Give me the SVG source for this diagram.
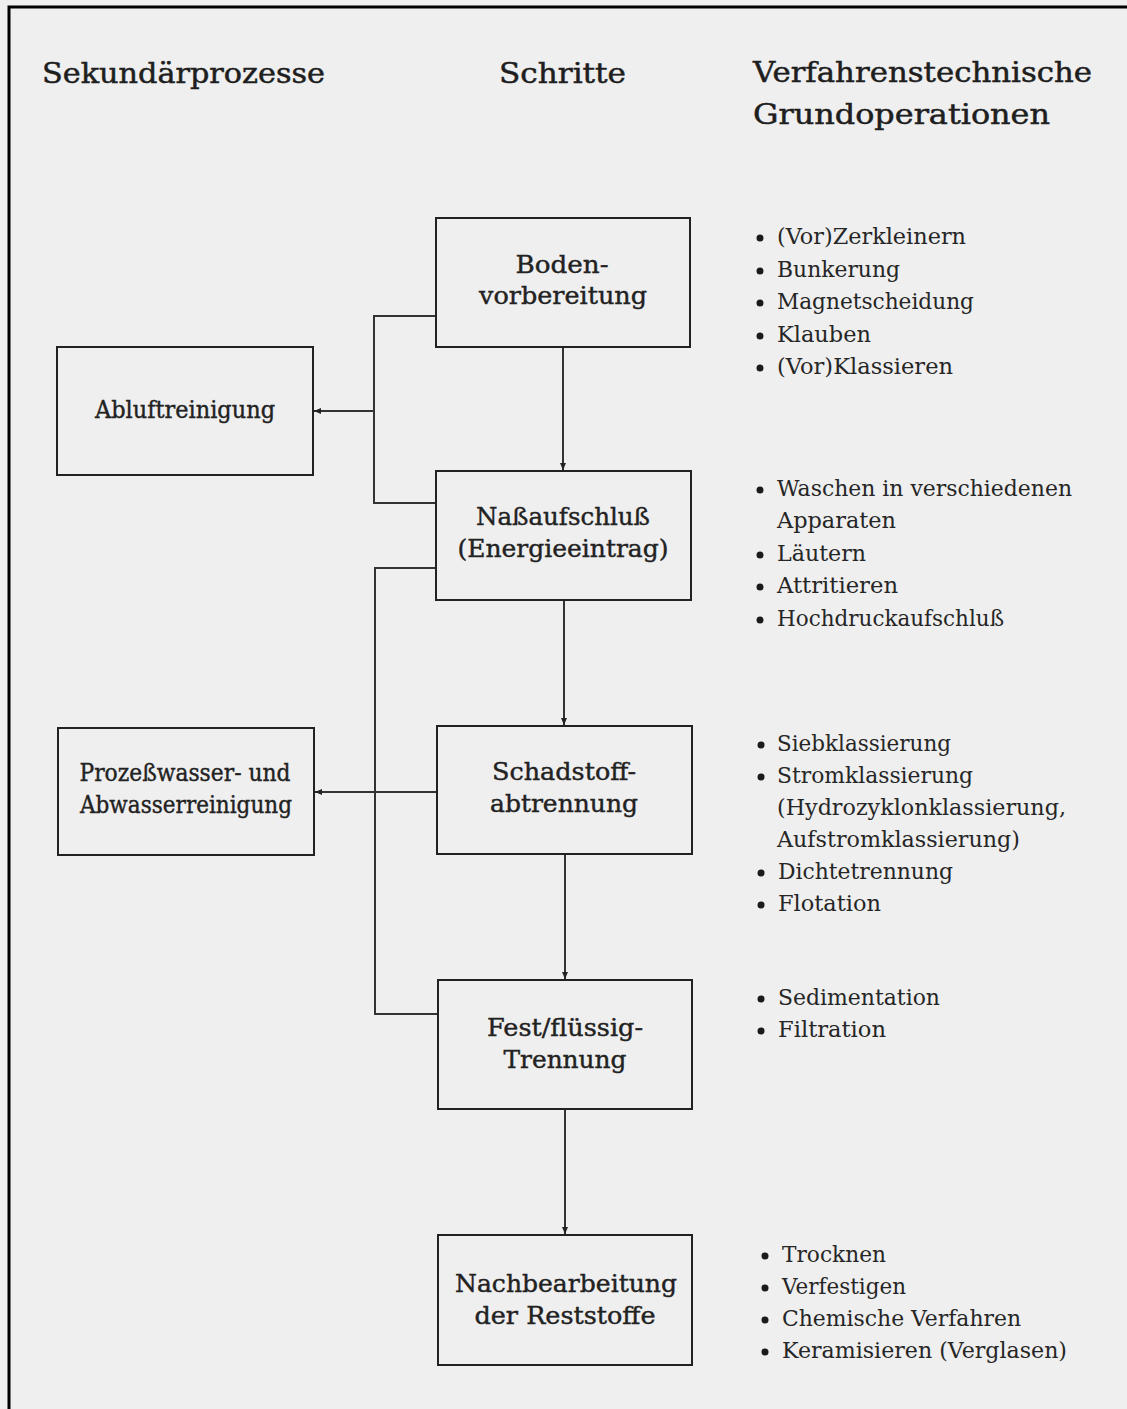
<svg xmlns="http://www.w3.org/2000/svg" width="1127" height="1409" viewBox="0 0 1127 1409">
<defs>
<marker id="ah" markerWidth="8" markerHeight="6" refX="7" refY="3" orient="auto" markerUnits="userSpaceOnUse">
<path d="M0,0 L7,3 L0,6 Z" fill="#222"/>
</marker>
<style>
.bg{fill:#efefef}
.frame{stroke:#000;stroke-width:3;fill:none}
.box{fill:none;stroke:#222;stroke-width:2}
.conn{fill:none;stroke:#333;stroke-width:2}
.hd{font-family:"DejaVu Serif","Liberation Serif",serif;font-size:28px;fill:#1e1e1e;stroke:#1e1e1e;stroke-width:0.5}
.bt{font-family:"DejaVu Serif","Liberation Serif",serif;font-size:24px;fill:#222;stroke:#222;stroke-width:0.4;text-anchor:middle}
.li{font-family:"DejaVu Serif","Liberation Serif",serif;font-size:22px;fill:#262626}
.dot{fill:#1a1a1a}
</style>
</defs>
<rect class="bg" x="0" y="0" width="1127" height="1409"/>
<path class="frame" d="M9,1409 L9,7 L1127,7"/>

<g id="headers">
<text class="hd" x="42" y="83" textLength="283" lengthAdjust="spacingAndGlyphs">Sekundärprozesse</text>
<text class="hd" x="499" y="83" textLength="127" lengthAdjust="spacingAndGlyphs">Schritte</text>
<text class="hd" x="753" y="82" textLength="339" lengthAdjust="spacingAndGlyphs">Verfahrenstechnische</text>
<text class="hd" x="753" y="124" textLength="297" lengthAdjust="spacingAndGlyphs">Grundoperationen</text>
</g>

<g id="connectors">
<line class="conn" x1="563" y1="347" x2="563" y2="470" marker-end="url(#ah)"/>
<line class="conn" x1="564" y1="600" x2="564" y2="725" marker-end="url(#ah)"/>
<line class="conn" x1="565" y1="854" x2="565" y2="979" marker-end="url(#ah)"/>
<line class="conn" x1="565" y1="1109" x2="565" y2="1234" marker-end="url(#ah)"/>
<path class="conn" d="M436,316 L374,316 L374,503 L436,503"/>
<line class="conn" x1="374" y1="411" x2="314" y2="411" marker-end="url(#ah)"/>
<path class="conn" d="M436,568 L375,568 L375,1014 L438,1014"/>
<line class="conn" x1="437" y1="792" x2="315" y2="792" marker-end="url(#ah)"/>
</g>

<g id="boden">
<rect class="box" x="436" y="218" width="254" height="129"/>
<text class="bt" x="562" y="273" textLength="93" lengthAdjust="spacingAndGlyphs">Boden-</text>
<text class="bt" x="563" y="304" textLength="168" lengthAdjust="spacingAndGlyphs">vorbereitung</text>
</g>
<g id="abluft">
<rect class="box" x="57" y="347" width="256" height="128"/>
<text class="bt" x="185" y="418" textLength="180" lengthAdjust="spacingAndGlyphs">Abluftreinigung</text>
</g>
<g id="nass">
<rect class="box" x="436" y="471" width="255" height="129"/>
<text class="bt" x="563" y="525" textLength="174" lengthAdjust="spacingAndGlyphs">Naßaufschluß</text>
<text class="bt" x="563" y="557" textLength="211" lengthAdjust="spacingAndGlyphs">(Energieeintrag)</text>
</g>
<g id="prozesswasser">
<rect class="box" x="58" y="728" width="256" height="127"/>
<text class="bt" x="185" y="781" textLength="211" lengthAdjust="spacingAndGlyphs">Prozeßwasser- und</text>
<text class="bt" x="186" y="813" textLength="212" lengthAdjust="spacingAndGlyphs">Abwasserreinigung</text>
</g>
<g id="schadstoff">
<rect class="box" x="437" y="726" width="255" height="128"/>
<text class="bt" x="564" y="780" textLength="144" lengthAdjust="spacingAndGlyphs">Schadstoff-</text>
<text class="bt" x="564" y="812" textLength="148" lengthAdjust="spacingAndGlyphs">abtrennung</text>
</g>
<g id="festfluessig">
<rect class="box" x="438" y="980" width="254" height="129"/>
<text class="bt" x="565" y="1036" textLength="156" lengthAdjust="spacingAndGlyphs">Fest/flüssig-</text>
<text class="bt" x="565" y="1068" textLength="123" lengthAdjust="spacingAndGlyphs">Trennung</text>
</g>
<g id="nachbearbeitung">
<rect class="box" x="438" y="1235" width="254" height="130"/>
<text class="bt" x="566" y="1292" textLength="222" lengthAdjust="spacingAndGlyphs">Nachbearbeitung</text>
<text class="bt" x="565" y="1324" textLength="181" lengthAdjust="spacingAndGlyphs">der Reststoffe</text>
</g>

<g id="ops-boden">
<circle class="dot" cx="760" cy="238" r="3.5"/>
<text class="li" x="777" y="244" textLength="189" lengthAdjust="spacingAndGlyphs">(Vor)Zerkleinern</text>
<circle class="dot" cx="760" cy="271" r="3.5"/>
<text class="li" x="777" y="277" textLength="123" lengthAdjust="spacingAndGlyphs">Bunkerung</text>
<circle class="dot" cx="760" cy="303" r="3.5"/>
<text class="li" x="777" y="309" textLength="197" lengthAdjust="spacingAndGlyphs">Magnetscheidung</text>
<circle class="dot" cx="760" cy="336" r="3.5"/>
<text class="li" x="777" y="342" textLength="94" lengthAdjust="spacingAndGlyphs">Klauben</text>
<circle class="dot" cx="760" cy="368" r="3.5"/>
<text class="li" x="777" y="374" textLength="176" lengthAdjust="spacingAndGlyphs">(Vor)Klassieren</text>
</g>
<g id="ops-nass">
<circle class="dot" cx="760" cy="490" r="3.5"/>
<text class="li" x="777" y="496" textLength="295" lengthAdjust="spacingAndGlyphs">Waschen in verschiedenen</text>
<text class="li" x="777" y="528" textLength="119" lengthAdjust="spacingAndGlyphs">Apparaten</text>
<circle class="dot" cx="760" cy="555" r="3.5"/>
<text class="li" x="777" y="561" textLength="89" lengthAdjust="spacingAndGlyphs">Läutern</text>
<circle class="dot" cx="760" cy="587" r="3.5"/>
<text class="li" x="777" y="593" textLength="121" lengthAdjust="spacingAndGlyphs">Attritieren</text>
<circle class="dot" cx="760" cy="620" r="3.5"/>
<text class="li" x="777" y="626" textLength="227" lengthAdjust="spacingAndGlyphs">Hochdruckaufschluß</text>
</g>
<g id="ops-schadstoff">
<circle class="dot" cx="761" cy="745" r="3.5"/>
<text class="li" x="777" y="751" textLength="174" lengthAdjust="spacingAndGlyphs">Siebklassierung</text>
<circle class="dot" cx="761" cy="777" r="3.5"/>
<text class="li" x="777" y="783" textLength="196" lengthAdjust="spacingAndGlyphs">Stromklassierung</text>
<text class="li" x="777" y="815" textLength="289" lengthAdjust="spacingAndGlyphs">(Hydrozyklonklassierung,</text>
<text class="li" x="777" y="847" textLength="243" lengthAdjust="spacingAndGlyphs">Aufstromklassierung)</text>
<circle class="dot" cx="761" cy="873" r="3.5"/>
<text class="li" x="778" y="879" textLength="175" lengthAdjust="spacingAndGlyphs">Dichtetrennung</text>
<circle class="dot" cx="761" cy="905" r="3.5"/>
<text class="li" x="778" y="911" textLength="103" lengthAdjust="spacingAndGlyphs">Flotation</text>
</g>
<g id="ops-fest">
<circle class="dot" cx="761" cy="999" r="3.5"/>
<text class="li" x="778" y="1005" textLength="162" lengthAdjust="spacingAndGlyphs">Sedimentation</text>
<circle class="dot" cx="761" cy="1031" r="3.5"/>
<text class="li" x="778" y="1037" textLength="108" lengthAdjust="spacingAndGlyphs">Filtration</text>
</g>
<g id="ops-nach">
<circle class="dot" cx="765" cy="1256" r="3.5"/>
<text class="li" x="782" y="1262" textLength="104" lengthAdjust="spacingAndGlyphs">Trocknen</text>
<circle class="dot" cx="765" cy="1288" r="3.5"/>
<text class="li" x="782" y="1294" textLength="124" lengthAdjust="spacingAndGlyphs">Verfestigen</text>
<circle class="dot" cx="765" cy="1320" r="3.5"/>
<text class="li" x="782" y="1326" textLength="239" lengthAdjust="spacingAndGlyphs">Chemische Verfahren</text>
<circle class="dot" cx="765" cy="1352" r="3.5"/>
<text class="li" x="782" y="1358" textLength="285" lengthAdjust="spacingAndGlyphs">Keramisieren (Verglasen)</text>
</g>
</svg>
